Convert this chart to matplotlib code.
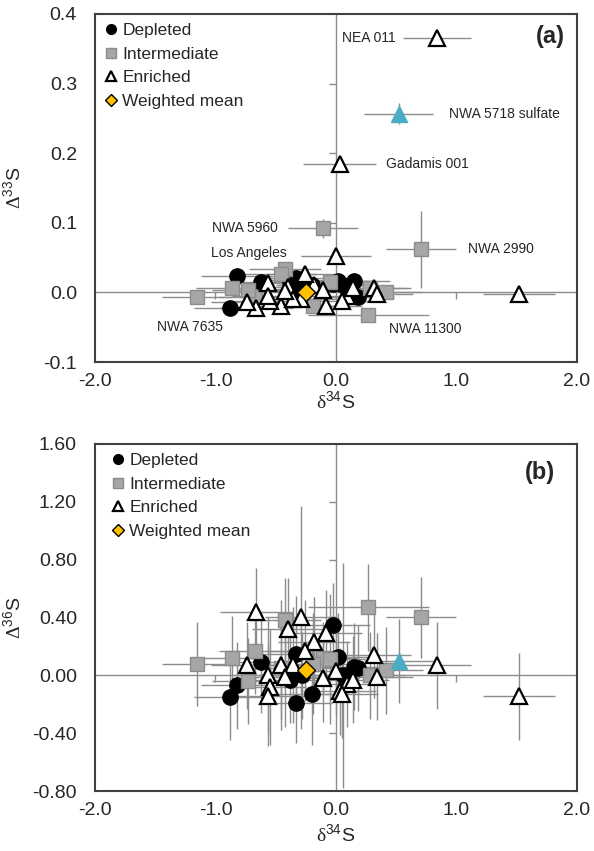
import numpy as np
import matplotlib
matplotlib.use('Agg')
import matplotlib.pyplot as plt
from matplotlib.lines import Line2D

plt.rcParams['font.family'] = ['Liberation Sans', 'DejaVu Sans']
plt.rcParams['mathtext.fontset'] = 'custom'
plt.rcParams['mathtext.rm'] = 'Liberation Sans'
plt.rcParams['mathtext.cal'] = 'Liberation Serif'

# 贫化组 (Depleted)
d34_dep = [-0.88, -0.82, -0.62, -0.33, -0.02, 0.02, 0.06, 0.15, 0.18, -0.33, -0.20, -0.38, -0.28]
D33_dep = [-0.023, 0.023, 0.015, 0.020, 0.012, 0.017, 0.010, 0.017, -0.007, 0.005, 0.010, 0.015, 0.018]
D36_dep = [-0.15, -0.07, 0.09, 0.15, 0.35, 0.13, 0.00, 0.06, 0.05, -0.19, -0.13, -0.03, 0.00]
d34_dep_err = [0.30] * 13
D33_dep_err = [0.010] * 13
D36_dep_err = [0.30, 0.30, 0.35, 0.40, 0.29, 0.30, 0.78, 0.30, 0.30, 0.28, 0.35, 0.30, 0.30]

# 中间组 (Intermediate)
d34_int = [-0.11, 0.71, 0.27, -1.15, -0.86, -0.67, -0.42, -0.73, 0.42, 0.28, -0.05, -0.19, -0.46]
D33_int = [0.092, 0.062, -0.032, -0.006, 0.007, -0.007, 0.034, 0.003, 0.000, 0.007, 0.015, -0.019, 0.027]
D36_int = [0.12, 0.40, 0.47, 0.08, 0.12, 0.17, 0.38, -0.04, 0.035, 0.00, 0.11, 0.08, 0.05]
d34_int_err = [0.29, 0.29, 0.50, 0.29, 0.30, 0.30, 0.30, 0.30, 0.30, 0.30, 0.30, 0.30, 0.30]
D33_int_err = [0.014, 0.055, 0.010, 0.010, 0.010, 0.010, 0.010, 0.010, 0.010, 0.010, 0.010, 0.010, 0.010]
D36_int_err = [0.25, 0.28, 0.30, 0.29, 0.29, 0.30, 0.29, 0.30, 0.30, 0.30, 0.45, 0.35, 0.35]

# 富集组 (Enriched)
d34_enr = [0.84, 0.03, 0.00, 1.52, -0.66, -0.29, -0.40, -0.08, -0.18, -0.26, 0.32, -0.74,
           -0.46, -0.36, -0.56, -0.42, -0.11, 0.34, 0.09, 0.14, -0.55, -0.56, 0.05]
D33_enr = [0.366, 0.185, 0.053, -0.002, -0.023, -0.010, 0.008, -0.019, 0.010, 0.027, 0.006, -0.014,
           -0.019, -0.010, 0.013, 0.002, 0.003, -0.003, -0.005, 0.007, -0.012, -0.005, -0.012]
D36_enr = [0.07, -0.11, 0.03, -0.145, 0.44, 0.40, 0.32, 0.29, 0.23, 0.17, 0.14, 0.07,
           0.07, 0.07, 0.00, -0.01, -0.02, -0.01, -0.06, -0.03, -0.08, -0.14, -0.13]
d34_enr_err = [0.28, 0.30, 0.29, 0.30] + [0.30] * 19
D33_enr_err = [0.010] * 23
D36_enr_err = [0.30, 0.30, 0.30, 0.30, 0.30, 0.77, 0.35, 0.30, 0.31, 0.35, 0.30, 0.30,
               0.45, 0.40, 0.40, 0.35, 0.30, 0.30, 0.30, 0.30, 0.40, 0.35, 0.30]

# NWA 5718 sulfate
d34_sul, D33_sul, D36_sul = [0.52], [0.257], [0.10]
d34_sul_err, D33_sul_err, D36_sul_err = [0.29], [0.015], [0.29]

# 加权平均
d34_mean, D33_mean, D36_mean = [-0.25], [0.001], [0.04]

# 标注
labels_a = ['NEA 011', 'NWA 5718 sulfate', 'Gadamis 001', 'NWA 5960', 'Los Angeles',
            'NWA 2990', 'NWA 7635', 'NWA 11300']
label_x = [0.50, 0.94, 0.42, -0.48, -0.41, 1.10, -0.94, 0.44]
label_y = [0.366, 0.257, 0.185, 0.092, 0.056, 0.062, -0.050, -0.053]
label_ha = ['right', 'left', 'left', 'right', 'right', 'left', 'right', 'left']

xticks = [-2.0, -1.0, 0.0, 1.0, 2.0]
yticks_a = [-0.1, 0.0, 0.1, 0.2, 0.3, 0.4]
yticks_b = [-0.80, -0.40, 0.00, 0.40, 0.80, 1.20, 1.60]

err_c = '#8c8c8c'
txt_c = '#262626'
sq_face = '#a6a6a6'
sq_edge = '#8c8c8c'
cyan = '#4bacc6'
gold = '#ffc000'

fig = plt.figure(figsize=(5.94, 8.51), dpi=100)
ax1 = fig.add_axes([0.160, 0.5746, 0.811, 0.409])
ax2 = fig.add_axes([0.160, 0.0705, 0.811, 0.4078])


def draw_panel(ax, yi, yticks, yfmt, tag, tag_pos, leg_anchor):
    groups = [
        (d34_dep, [D33_dep, D36_dep][yi], d34_dep_err, [D33_dep_err, D36_dep_err][yi],
         dict(marker='o', ms=11, mfc='black', mec='black', mew=1)),
        (d34_int, [D33_int, D36_int][yi], d34_int_err, [D33_int_err, D36_int_err][yi],
         dict(marker='s', ms=9.5, mfc=sq_face, mec=sq_edge, mew=1)),
        (d34_enr, [D33_enr, D36_enr][yi], d34_enr_err, [D33_enr_err, D36_enr_err][yi],
         dict(marker='^', ms=12, mfc='white', mec='black', mew=1.6)),
        (d34_sul, [D33_sul, D36_sul][yi], d34_sul_err, [D33_sul_err, D36_sul_err][yi],
         dict(marker='^', ms=11, mfc=cyan, mec=cyan, mew=1)),
    ]
    # 误差棒先画，放在底层
    for x, y, xe, ye, st in groups:
        ax.errorbar(x, y, xerr=xe, yerr=ye, fmt='none', ecolor=err_c, elinewidth=1,
                    capsize=0, zorder=2)
    z = 3
    for x, y, xe, ye, st in groups:
        ax.plot(x, y, ls='none', zorder=z, **st)
        z += 1
    ym = [D33_mean, D36_mean][yi]
    ax.plot(d34_mean, ym, ls='none', marker='D', ms=9.5, mfc=gold, mec='black', mew=1, zorder=10)

    # Excel 风格的零轴线
    ax.axhline(0, color=err_c, lw=1, zorder=1)
    ax.axvline(0, color=err_c, lw=1, zorder=1)
    yt_inner = [v for v in yticks[1:-1] if v != 0]
    xt_inner = [v for v in xticks[1:-1] if v != 0]
    ax.plot(np.zeros(len(yt_inner)), yt_inner, ls='none', marker=0, ms=5, mew=1, color=err_c, zorder=1)
    ax.plot(xt_inner, np.zeros(len(xt_inner)), ls='none', marker=3, ms=5, mew=1, color=err_c, zorder=1)

    ax.set_xlim(-2.0, 2.0)
    ax.set_ylim(yticks[0], yticks[-1])
    ax.set_xticks(xticks)
    ax.set_xticklabels(['%.1f' % v for v in xticks])
    ax.set_yticks(yticks)
    ax.set_yticklabels([yfmt % v for v in yticks])
    ax.tick_params(length=0, labelsize=14, colors=txt_c)
    ax.tick_params(axis='x', pad=8)
    ax.tick_params(axis='y', pad=13)
    for s in ax.spines.values():
        s.set_color('#404040')
        s.set_linewidth(1.5)

    ax.set_xlabel(r'$\mathcal{δ}^{\mathrm{34}}$S', fontsize=14, color=txt_c)
    ylab = [r'$\mathcal{Δ}^{\mathrm{33}}$S', r'$\mathcal{Δ}^{\mathrm{36}}$S'][yi]
    ax.set_ylabel(ylab, fontsize=14, color=txt_c)
    ax.yaxis.set_label_coords(-0.145, 0.5)

    ax.text(tag_pos[0], tag_pos[1], tag, transform=ax.transAxes, fontsize=17, fontweight='bold',
            ha='right', va='center', color=txt_c)

    handles = [
        Line2D([], [], ls='none', marker='o', ms=7, mfc='black', mec='black'),
        Line2D([], [], ls='none', marker='s', ms=6.5, mfc=sq_face, mec=sq_edge),
        Line2D([], [], ls='none', marker='^', ms=7.5, mfc='white', mec='black', mew=1.6),
        Line2D([], [], ls='none', marker='D', ms=6, mfc=gold, mec='black', mew=1),
    ]
    ax.legend(handles, ['Depleted', 'Intermediate', 'Enriched', 'Weighted mean'],
              loc='upper left', bbox_to_anchor=leg_anchor, frameon=False, fontsize=12.5,
              handlelength=0.6, handletextpad=0.35, labelspacing=0.5, borderaxespad=0,
              borderpad=0, labelcolor=txt_c)


draw_panel(ax1, 0, yticks_a, '%.1f', '(a)', (0.975, 0.934), (0.022, 0.975))
ax1.xaxis.set_label_coords(0.5, -0.082)
for t, x, y, ha in zip(labels_a, label_x, label_y, label_ha):
    ax1.text(x, y, t, fontsize=10, ha=ha, va='center', color=txt_c, zorder=12)

draw_panel(ax2, 1, yticks_b, '%.2f', '(b)', (0.955, 0.919), (0.037, 0.975))
ax2.xaxis.set_label_coords(0.5, -0.095)

fig.savefig('out.png', dpi=100)
